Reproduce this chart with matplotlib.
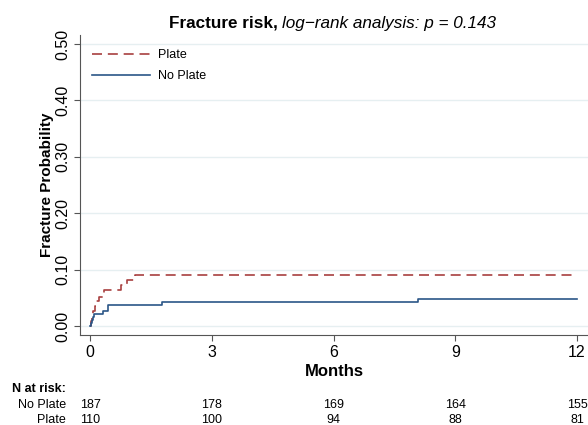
import numpy as np
import matplotlib.pyplot as plt

plt.rcParams['font.family'] = ['Liberation Sans', 'DejaVu Sans']

# cumulative fracture probability (step function)
plate_t = [0, 0.02, 0.05, 0.08, 0.11, 0.15, 0.21, 0.34, 0.75, 0.91, 1.10, 12]
plate_p = [0, 0.009, 0.018, 0.027, 0.036, 0.045, 0.052, 0.063, 0.073, 0.082, 0.091, 0.091]
noplate_t = [0, 0.02, 0.05, 0.07, 0.10, 0.31, 0.43, 1.77, 8.08, 12]
noplate_p = [0, 0.005, 0.011, 0.016, 0.021, 0.027, 0.037, 0.043, 0.048, 0.048]

# numbers at risk
risk_months = [0, 3, 6, 9, 12]
risk_noplate = [187, 178, 169, 164, 155]
risk_plate = [110, 100, 94, 88, 81]

W, H = 588, 425
fig = plt.figure(figsize=(W / 100, H / 100), dpi=100)
ax = fig.add_axes([80 / W, 90 / H, (588 - 80) / W, (335 - 35) / H])

red = '#a8403f'
blue = '#2b5687'

ax.step(plate_t, plate_p, where='post', color=red, lw=1.2,
        linestyle=(0, (6, 3.5)), label='Plate')
ax.step(noplate_t, noplate_p, where='post', color=blue, lw=1.2,
        label='No Plate')

ax.set_xlim(-0.25, 12.27)
ax.set_ylim(-0.016, 0.516)
ax.set_xticks(risk_months)
ax.set_yticks(np.arange(0, 0.51, 0.1))
ax.set_yticklabels([f'{v:.2f}' for v in np.arange(0, 0.51, 0.1)],
                   rotation=90, va='center')
ax.tick_params(axis='both', labelsize=11.5, color='#555555', length=4)
ax.tick_params(axis='x', pad=3)
ax.tick_params(axis='y', pad=3)
ax.grid(axis='y', color='#e6eff1', lw=1)
ax.set_axisbelow(True)
for s in ['top', 'right']:
    ax.spines[s].set_visible(False)
for s in ['left', 'bottom']:
    ax.spines[s].set_color('#555555')

ax.set_ylabel('Fracture Probability', fontsize=11, fontweight='bold')
ax.yaxis.set_label_coords((54 - 80) / 508, 0.5)
ax.set_xlabel('Months', fontsize=12, fontweight='bold', labelpad=3)

ax.legend(loc='upper left', frameon=False, fontsize=9, handlelength=4.6,
          handletextpad=0.7, labelspacing=0.75, borderaxespad=0,
          bbox_to_anchor=(7 / 508, 1 - 9 / 300))

# title: bold part + italic part
fig.text(278 / W, 1 - 28 / H, 'Fracture risk,', fontsize=12.3, fontweight='bold',
         ha='right', va='baseline')
fig.text(282 / W, 1 - 28 / H, 'log\u2212rank analysis: p = 0.143', fontsize=12.3,
         style='italic', ha='left', va='baseline')

# numbers at risk table
fig.text(12 / W, 1 - 392 / H, 'N at risk:', fontsize=9, fontweight='bold',
         va='baseline')
fig.text(66 / W, 1 - 408 / H, 'No Plate', fontsize=9, ha='right', va='baseline')
fig.text(66 / W, 1 - 423 / H, 'Plate', fontsize=9, ha='right', va='baseline')
for m, a, b in zip(risk_months, risk_noplate, risk_plate):
    ax.annotate(str(a), xy=(m, 0), xycoords=('data', 'figure fraction'),
                xytext=(0, H - 408), textcoords='offset pixels',
                ha='center', va='baseline', fontsize=9)
    ax.annotate(str(b), xy=(m, 0), xycoords=('data', 'figure fraction'),
                xytext=(0, H - 423), textcoords='offset pixels',
                ha='center', va='baseline', fontsize=9)

fig.savefig('out.png', dpi=100)
